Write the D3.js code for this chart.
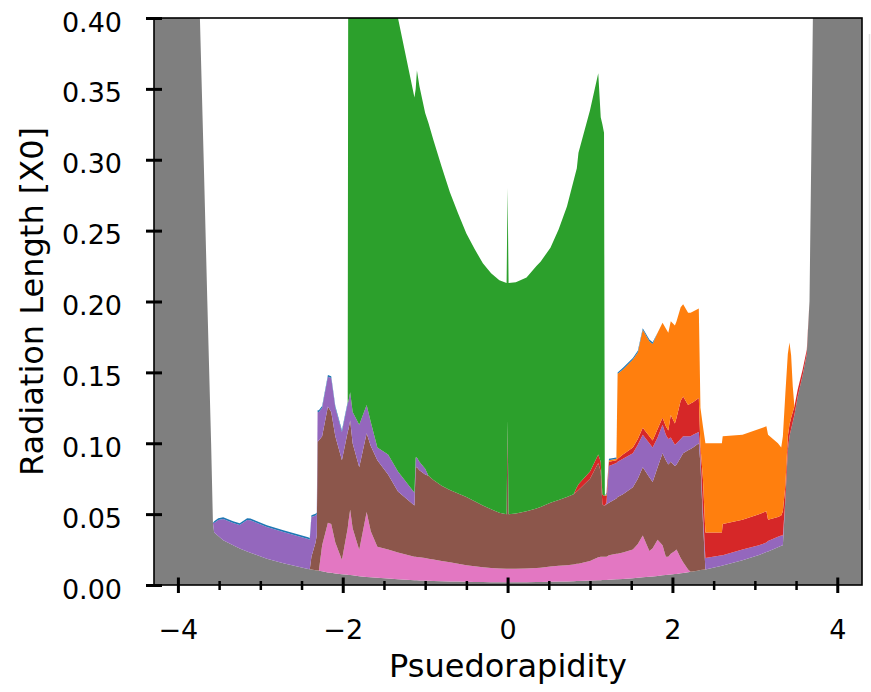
<!DOCTYPE html>
<html>
<head>
<meta charset="utf-8">
<script src="https://cdn.jsdelivr.net/npm/d3@7"></script>
<style>
  html, body { margin: 0; padding: 0; background: #fff; }
  svg { display: block; font-family: "DejaVu Sans", sans-serif; }
</style>
</head>
<body>
<svg id="chart" width="871" height="692"></svg>
<script>
// ---- data ----
const eta = [-4.35,-3.733,-3.687,-3.643,-3.597,-3.575,-3.56,-3.51,-3.45,-3.33,
  -3.25,-3.16,-3.12,-2.92,-2.72,-2.42,-2.40,-2.38,-2.33,-2.315,
  -2.305,-2.29,-2.25,-2.18,-2.14,-2.09,-2.01,-1.94,-1.93,-1.91,
  -1.88,-1.80,-1.71,-1.66,-1.58,-1.45,-1.33,-1.13,-1.115,-1.10,
  -1.07,
  -1.0,-0.96,-0.90,-0.8,-0.70,-0.6,-0.50,-0.4,-0.30,-0.2,
  -0.10,-0.012,0,0.012,0.1,0.23,0.35,0.40,0.52,0.62,
  0.72,
  0.80,0.84,0.86,1.00,1.10,1.13,1.15,1.17,1.18,1.20,
  1.23,1.32,1.335,1.40,1.52,1.58,1.64,1.72,1.76,1.82,
  1.88,1.92,1.95,1.98,2.03,2.05,2.10,2.13,2.19,2.22,
  2.25,2.32,2.34,2.37,2.40,2.60,2.61,2.85,3.05,3.14,
  3.16,3.28,3.32,3.34,3.37,3.40,3.42,3.44,3.46,3.48,
  3.52,3.58,3.63,3.663,3.684,3.704,4.35];

const gray = [.60,.40,.30,.20,.10,.044,.037,.0345,.0316,.028,
  .0258,.0236,.0227,.0186,.0153,.0113,.0111,.0109,.0104,.0103,
  .0102,.0101,.0097,.0089,.0086,.0082,.0076,.0072,.0071,.007,
  .0068,.0062,.0057,.0054,.0051,.0045,.004,.0034,.0034,.0033,
  .0032,
  .0031,.003,.0029,.0027,.0025,.0024,.0023,.0022,.0021,.002,
  .002,.002,.002,.002,.002,.002,.0021,.0022,.0023,.0024,
  .0025,
  .0027,.0028,.0028,.0031,.0033,.0034,.0035,.0035,.0035,.0036,
  .0037,.004,.004,.0043,.0048,.0051,.0054,.0058,.006,.0064,
  .0068,.007,.0072,.0074,.0077,.0078,.0083,.0085,.009,.0093,
  .0096,.0102,.0105,.0107,.011,.0136,.0137,.0174,.0212,.0232,
  .0237,.0267,.0277,.028,.060,.095,.105,.110,.115,.120,
  .133,.148,.163,.20,.30,.40,.60];

const pink = [0,0,0,0,0,0,0,0,0,0,
  0,0,0,0,0,0,0,0,0,0,
  0,0,.0183,.0351,.0344,.0218,.010,.0328,.0379,.046,
  .0332,.0185,.0458,.0326,.0219,.0205,.019,.0166,.0166,.0165,
  .0163,
  .0159,.0155,.0151,.0143,.0135,.0126,.0117,.011,.0104,.010,
  .0097,.0095,.0095,.0095,.0095,.0097,.0099,.010,.0107,.0111,
  .0115,
  .0118,.0122,.0122,.0139,.0162,.0166,.0165,.0165,.0165,.0164,
  .0173,.018,.018,.0187,.0202,.0239,.0296,.0182,.020,.0256,
  .0212,.013,.0128,.0146,.0163,.0172,.0107,.0075,.002,0,
  0,0,0,0,0,0,0,0,0,0,
  0,0,0,0,0,0,0,0,0,0,
  0,0,0,0,0,0,0];

const brown = [0,0,0,0,0,0,0,0,0,0,
  0,0,0,0,0,0,0,.0091,.0196,.0247,
  .0908,.0919,.077,.082,.079,.075,.0704,.068,.065,.063,
  .060,.0583,.0555,.060,.061,.053,.043,.036,.063,.0632,
  .0615,
  .059,.0585,.056,.053,.051,.0495,.048,.0458,.0435,.0415,
  .0393,.0385,.1045,.0385,.039,.0403,.042,.0428,.045,.0465,
  .048,
  .0495,.051,.052,.058,.0665,.060,.037,.036,.036,.037,
  .037,.039,.040,.041,.044,.046,.048,.052,.0467,.051,
  .065,.068,.065,.065,.060,.060,.071,.077,.084,.0867,
  .0874,.0898,.0745,.0343,0,0,0,0,0,0,
  0,0,0,0,0,0,0,0,0,0,
  0,0,0,0,0,0,0];

const purple = [0,0,0,0,0,0,.0067,.0114,.015,.0157,
  .0165,.0223,.023,.0224,.0221,.0212,.0209,.028,.019,.015,
  .021,.020,.020,.021,.024,.020,.020,.020,.020,.020,
  .022,.030,.020,.017,.009,.014,.014,.009,.007,.007,
  .006,
  .004,0,0,0,0,0,0,0,0,0,
  0,0,0,0,0,0,0,0,0,0,
  0,
  0,0,0,0,0,0,0,0,0,.001,
  .026,.025,.025,.025,.024,.024,.023,.024,.0243,.021,
  .020,.018,.018,.017,.015,.015,.013,.012,.010,.009,
  .009,.008,.007,.007,.008,.0074,.0073,.0076,.0068,.0068,
  .0073,.0073,.0073,.007,0,0,0,0,0,0,
  0,0,0,0,0,0,0];

const red = [0,0,0,0,0,0,0,0,0,0,
  0,0,0,0,0,0,0,0,0,0,
  0,0,0,0,0,0,0,0,0,0,
  0,0,0,0,0,0,0,0,0,0,
  0,
  0,0,0,0,0,0,0,0,0,0,
  0,0,0,0,0,0,0,0,0,0,
  0,
  0,.003,.004,.005,.006,.007,.007,.007,.007,.005,
  .003,.002,.002,.003,.004,.004,.005,.005,.005,.006,
  .005,.006,.006,.016,.015,.018,.027,.028,.022,.023,
  .023,.024,.006,.023,.018,.016,.022,.021,.022,.022,
  .015,.014,.014,.017,.010,.010,.008,.008,.007,.006,
  .005,.004,.003,0,0,0,0];

const green = [0,0,0,0,0,0,0,0,0,0,
  0,0,0,0,0,0,0,0,0,0,
  0,0,0,0,0,0,0,0,.47,.464,
  .478,.487,.473,.485,.503,.358,.32,.279,.26,.273,
  .265,
  .251,.249,.240,.225,.210,.1975,.186,.178,.171,.1665,
  .164,.163,.164,.163,.163,.165,.171,.173,.180,.191,
  .205,
  .221,.225,.234,.255,.269,.243,.261,.256,0,0,
  0,0,0,0,0,0,0,0,0,0,
  0,0,0,0,0,0,0,0,0,0,
  0,0,0,0,0,0,0,0,0,0,
  0,0,0,0,0,0,0,0,0,0,
  0,0,0,0,0,0,0];

const orange = [0,0,0,0,0,0,0,0,0,0,
  0,0,0,0,0,0,0,0,0,0,
  0,0,0,0,0,0,0,0,0,0,
  0,0,0,0,0,0,0,0,0,0,
  0,
  0,0,0,0,0,0,0,0,0,0,
  0,0,0,0,0,0,0,0,0,0,
  0,
  0,0,0,0,0,0,0,0,0,.001,
  .001,.001,.060,.060,.062,.061,.069,.067,.068,.068,
  .067,.069,.069,.066,.069,.068,.066,.065,.065,.064,
  .064,.063,.027,.037,.063,.063,.062,.060,.060,.060,
  .060,.052,.048,.053,.065,.058,.058,.044,.018,0,
  0,0,0,0,0,0,0];

const blue = [0,0,0,0,0,0,.0012,.0012,.0012,.0012,
  .0012,.0012,.0012,.0012,.0012,.0012,.0012,.0012,.0012,.0012,
  .0012,.0012,.0012,.0012,.0012,.0012,.0012,.0012,0,0,
  0,0,0,0,0,0,0,0,0,0,
  0,
  0,0,0,0,0,0,0,0,0,0,
  0,0,0,0,0,0,0,0,0,0,
  0,
  0,0,0,0,0,0,0,0,0,.001,
  .001,.001,.001,.0012,.0012,.0012,.0012,.0012,.0012,0,
  0,0,0,0,0,0,0,0,0,0,
  0,0,0,0,0,0,0,0,0,0,
  0,0,0,0,0,0,0,0,0,0,
  0,0,0,0,0,0,0];

const seriesKeys = ["gray","pink","brown","purple","red","green","orange","blue"];
const seriesColors = ["#7f7f7f","#e377c2","#8c564b","#9467bd","#d62728","#2ca02c","#ff7f0e","#1f77b4"];
const seriesValues = {gray, pink, brown, purple, red, green, orange, blue};

const yTickValues = [0, 0.05, 0.10, 0.15, 0.20, 0.25, 0.30, 0.35, 0.40];
const yTickLabels = ["0.00","0.05","0.10","0.15","0.20","0.25","0.30","0.35","0.40"];
const xMajorTicks = [-4, -2, 0, 2, 4];
const xMajorLabels = ["\u22124", "\u22122", "0", "2", "4"];
const xMinorTicks = [-3.5,-3,-2.5,-1.5,-1,-0.5,0.5,1,1.5,2.5,3,3.5];
const xLabel = "Psuedorapidity";
const yLabel = "Radiation Length [X0]";

seriesKeys.forEach(k => {
  if (seriesValues[k].length !== eta.length)
    throw new Error("length mismatch " + k + " " + seriesValues[k].length + " vs " + eta.length);
});

// ---- layout ----
const L = 154, R = 862, T = 18, B = 585;
const svg = d3.select("#chart");

const x = d3.scaleLinear().domain([-4.29, 4.30]).range([L, R]);
const y = d3.scaleLinear().domain([0, 0.40]).range([B, T]);

const rows = eta.map((e, i) => {
  const o = {eta: e};
  seriesKeys.forEach(k => o[k] = seriesValues[k][i]);
  return o;
});
const stacked = d3.stack().keys(seriesKeys)(rows);

svg.append("defs").append("clipPath").attr("id", "plotclip")
  .append("rect").attr("x", L).attr("y", T).attr("width", R - L).attr("height", B - T);

const area = d3.area()
  .x(d => x(d.data.eta))
  .y0(d => y(d[0]))
  .y1(d => y(d[1]));

svg.append("g").attr("clip-path", "url(#plotclip)")
  .selectAll("path").data(stacked).join("path")
  .attr("d", area)
  .attr("fill", (d, i) => seriesColors[i])
  .attr("stroke", "none");

// spines
svg.append("rect").attr("x", L).attr("y", T).attr("width", R - L).attr("height", B - T)
  .attr("fill", "none").attr("stroke", "#000").attr("stroke-width", 1.6);

// y axis
const yAxis = svg.append("g").attr("transform", `translate(${L},0)`)
  .call(d3.axisLeft(y).tickValues(yTickValues).tickFormat((d, i) => yTickLabels[i]).tickSize(8));
yAxis.select(".domain").remove();
yAxis.selectAll(".tick line").attr("x1", -8).attr("x2", 8).attr("stroke", "#000").attr("stroke-width", 3);
yAxis.selectAll(".tick text").attr("x", -32).attr("dy", "13px")
  .attr("font-size", 27).attr("font-family", "DejaVu Sans").attr("fill", "#000");

// x axis major
const xAxis = svg.append("g").attr("transform", `translate(0,${B})`)
  .call(d3.axisBottom(x).tickValues(xMajorTicks).tickFormat((d, i) => xMajorLabels[i]).tickSize(8));
xAxis.select(".domain").remove();
xAxis.selectAll(".tick line").attr("y1", -7.5).attr("y2", 8).attr("stroke", "#000").attr("stroke-width", 3);
xAxis.selectAll(".tick text").attr("y", 54).attr("dy", null)
  .attr("font-size", 27).attr("font-family", "DejaVu Sans").attr("fill", "#000");

// x axis minor
const xMinor = svg.append("g").attr("transform", `translate(0,${B})`)
  .call(d3.axisBottom(x).tickValues(xMinorTicks).tickFormat("").tickSize(5));
xMinor.select(".domain").remove();
xMinor.selectAll(".tick line").attr("y1", -4).attr("y2", 5).attr("stroke", "#000").attr("stroke-width", 2.5);

// axis labels
svg.append("text").attr("x", (L + R) / 2).attr("y", 677).attr("text-anchor", "middle")
  .attr("font-size", 32).attr("font-family", "DejaVu Sans").attr("fill", "#000").text(xLabel);
svg.append("text").attr("transform", `translate(43,${(T + B) / 2}) rotate(-90)`)
  .attr("text-anchor", "middle").attr("font-size", 32).attr("font-family", "DejaVu Sans")
  .attr("fill", "#000").text(yLabel);

// clipped legend frame edge at the right border
svg.append("line").attr("x1", 869.5).attr("x2", 869.5).attr("y1", 34).attr("y2", 510)
  .attr("stroke", "#e4e4e4").attr("stroke-width", 1.5);
</script>
</body>
</html>
